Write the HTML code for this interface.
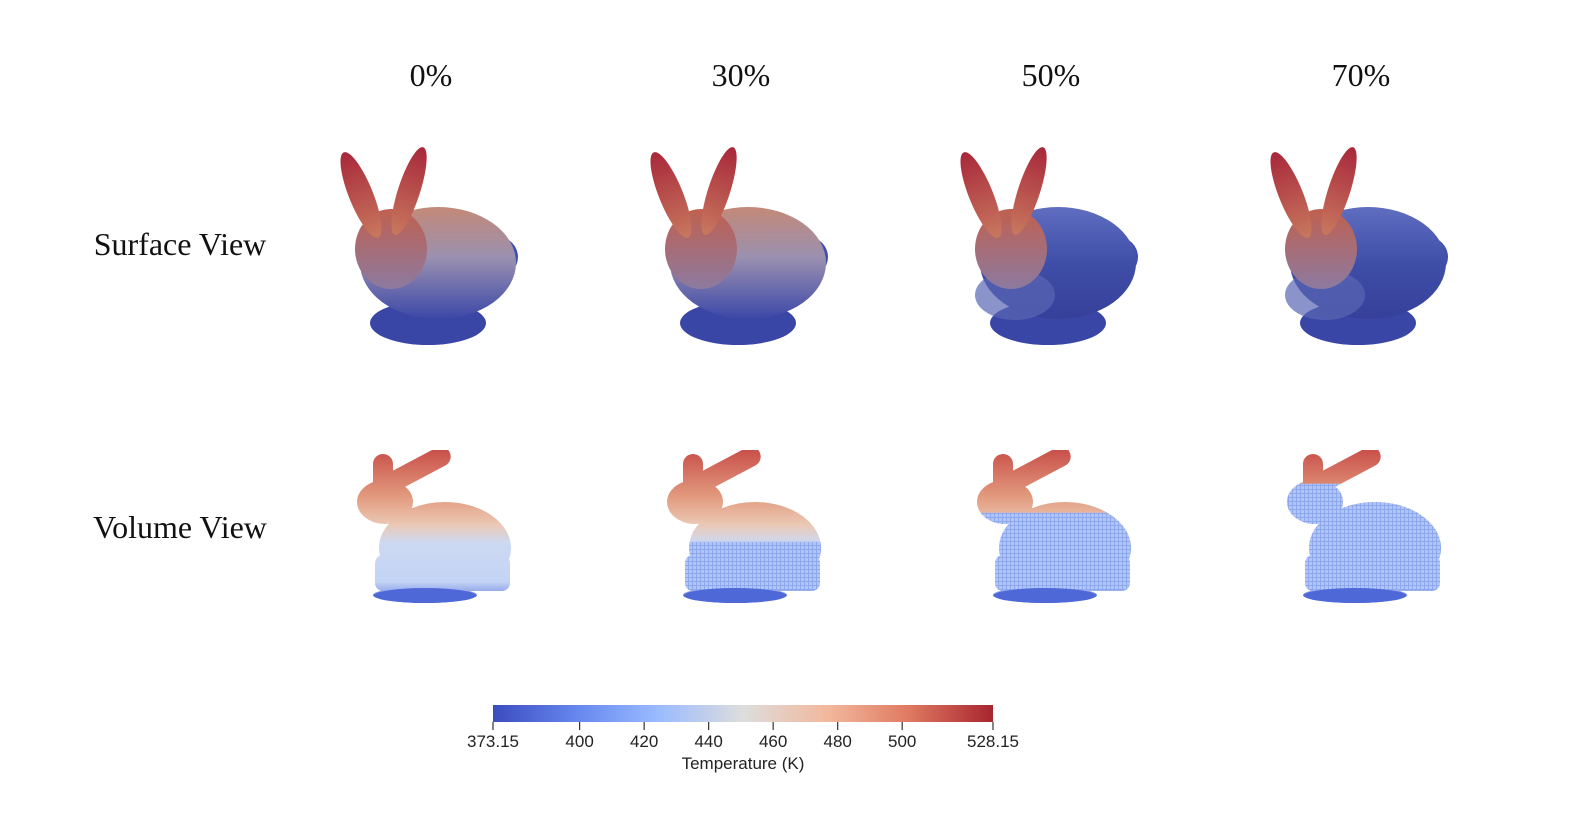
<!DOCTYPE html>
<html><head><meta charset="utf-8">
<style>
html,body{margin:0;padding:0;background:#fff;overflow:hidden;}
body{width:1576px;height:820px;}
svg{display:block;}
.title{font-family:"Liberation Serif",serif;font-size:32px;fill:#111;}
.tick{font-family:"Liberation Sans",sans-serif;font-size:17px;fill:#222;}
</style></head>
<body>
<svg id="fig" width="1576" height="820" viewBox="0 0 1576 820">
<defs>
  <linearGradient id="cbar" x1="0" x2="1" y1="0" y2="0">
    <stop offset="0" stop-color="#3b4cc0"/>
    <stop offset="0.17" stop-color="#6788ee"/>
    <stop offset="0.33" stop-color="#9abbff"/>
    <stop offset="0.5" stop-color="#dddddd"/>
    <stop offset="0.67" stop-color="#f2b89c"/>
    <stop offset="0.83" stop-color="#e07a62"/>
    <stop offset="1" stop-color="#a82530"/>
  </linearGradient>
  <linearGradient id="earG" x1="0" x2="0" y1="0" y2="1">
    <stop offset="0" stop-color="#a8283a"/><stop offset="1" stop-color="#c8785f"/>
  </linearGradient>
  <linearGradient id="surfA" x1="0" x2="0" y1="0" y2="1">
    <stop offset="0" stop-color="#c48978"/><stop offset="0.45" stop-color="#9a90b0"/><stop offset="1" stop-color="#3c48a8"/>
  </linearGradient>
  <linearGradient id="surfB" x1="0" x2="0" y1="0" y2="1">
    <stop offset="0" stop-color="#5f6ec0"/><stop offset="0.5" stop-color="#3f4ea8"/><stop offset="1" stop-color="#36409a"/>
  </linearGradient>
  <linearGradient id="headG" x1="0" x2="0" y1="0" y2="1">
    <stop offset="0" stop-color="#c0604f"/><stop offset="1" stop-color="#8c7aa0"/>
  </linearGradient>
  <linearGradient id="volG" x1="0" x2="0" y1="0" y2="1">
    <stop offset="0" stop-color="#c9504a"/><stop offset="0.3" stop-color="#e29a7e"/><stop offset="0.48" stop-color="#ebc8b4"/>
    <stop offset="0.6" stop-color="#cdd9f2"/><stop offset="0.85" stop-color="#c3d3f5"/><stop offset="1" stop-color="#5570dc"/>
  </linearGradient>
  <pattern id="grid" width="4" height="4" patternUnits="userSpaceOnUse">
    <rect width="4" height="4" fill="#8ea8ee"/><rect width="3" height="3" fill="#b2c6f6"/>
  </pattern>
</defs>
<g id="titles"></g>
<text class="title" x="180" y="255" text-anchor="middle">Surface View</text>
<text class="title" x="180" y="538" text-anchor="middle">Volume View</text>
<g id="bunnies"></g>
<g id="colorbar"></g>
</svg>
<script>
const NS="http://www.w3.org/2000/svg";
const labels=["0%","30%","50%","70%"];
const cutFrac=[1.0,0.6,0.41,0.22];   // fraction of volume bunny height where cut begins
const surfBlue=[0,0,1,1];
const tickVals=[373.15,400,420,440,460,480,500,528.15];
const tickLabels=["373.15","400","420","440","460","480","500","528.15"];
const vMin=373.15,vMax=528.15;
const cbX0=493,cbX1=993,cbY=705,cbH=17;
function el(t,a,p){const e=document.createElementNS(NS,t);for(const k in a)e.setAttribute(k,a[k]);p.appendChild(e);return e;}
const T=document.getElementById('titles'),B=document.getElementById('bunnies'),C=document.getElementById('colorbar');
labels.forEach((lab,i)=>{
  const dx=i*310;
  const t=el('text',{class:'title',x:431+dx,y:86,'text-anchor':'middle'},T);
  t.textContent=lab;
  
  
  const g=el('g',{transform:`translate(${333+dx},145)`},B);
  
  
  const bf=surfBlue[i]?'url(#surfB)':'url(#surfA)';
  el('ellipse',{cx:95,cy:178,rx:58,ry:22,fill:'#3a46a6'},g);
  el('circle',{cx:165,cy:112,r:20,fill:'#4150b0'},g);
  el('ellipse',{cx:105,cy:118,rx:78,ry:56,fill:bf},g);
  if(surfBlue[i]) el('ellipse',{cx:62,cy:150,rx:40,ry:25,fill:'#5a66b4',opacity:0.7},g);
  el('ellipse',{cx:58,cy:104,rx:36,ry:40,fill:'url(#headG)'},g);
  el('ellipse',{cx:28,cy:50,rx:12,ry:46,fill:'url(#earG)',transform:'rotate(-22 28 50)'},g);
  el('ellipse',{cx:76,cy:46,rx:11,ry:46,fill:'url(#earG)',transform:'rotate(18 76 46)'},g);
  const v=el('g',{transform:`translate(${355+dx},450)`},B);
  
  
  const cp=el('clipPath',{id:'vc'+i},v);
  const shapes=[['rect',{x:18,y:4,width:20,height:44,rx:10}],
    ['rect',{x:30,y:22,width:76,height:20,rx:10,transform:'rotate(-28 40 40)'}],
    ['ellipse',{cx:30,cy:52,rx:28,ry:22}],
    ['ellipse',{cx:90,cy:98,rx:66,ry:46}],
    ['rect',{x:20,y:105,width:135,height:36,rx:8}],
    ['ellipse',{cx:70,cy:145,rx:52,ry:8}]];
  shapes.forEach(s=>el(s[0],s[1],cp));
  const inner=el('g',{'clip-path':`url(#vc${i})`},v);
  el('rect',{x:0,y:0,width:160,height:155,fill:'url(#volG)'},inner);
  const cy=153*cutFrac[i];
  if(cutFrac[i]<1) el('rect',{x:0,y:cy,width:160,height:140-cy,fill:'url(#grid)'},inner);
  el('ellipse',{cx:70,cy:146,rx:52,ry:8,fill:'#4f68d8'},inner);
});
const rect=el('rect',{x:cbX0,y:cbY,width:cbX1-cbX0,height:cbH,fill:'url(#cbar)'},C);


const xs=v=>cbX0+(v-vMin)/(vMax-vMin)*(cbX1-cbX0);
tickVals.forEach((v,i)=>{
  const x=xs(v);
  const l=el('line',{x1:x,x2:x,y1:cbY+cbH,y2:cbY+cbH+8,stroke:'#333','stroke-width':1.2},C);
  
  
  const t=el('text',{class:'tick',x:x,y:747,'text-anchor':'middle'},C);
  t.textContent=tickLabels[i];
  
  
});
const ct=el('text',{class:'tick',x:743,y:769,'text-anchor':'middle'},C);
ct.textContent='Temperature (K)';


</script>
</body></html>
